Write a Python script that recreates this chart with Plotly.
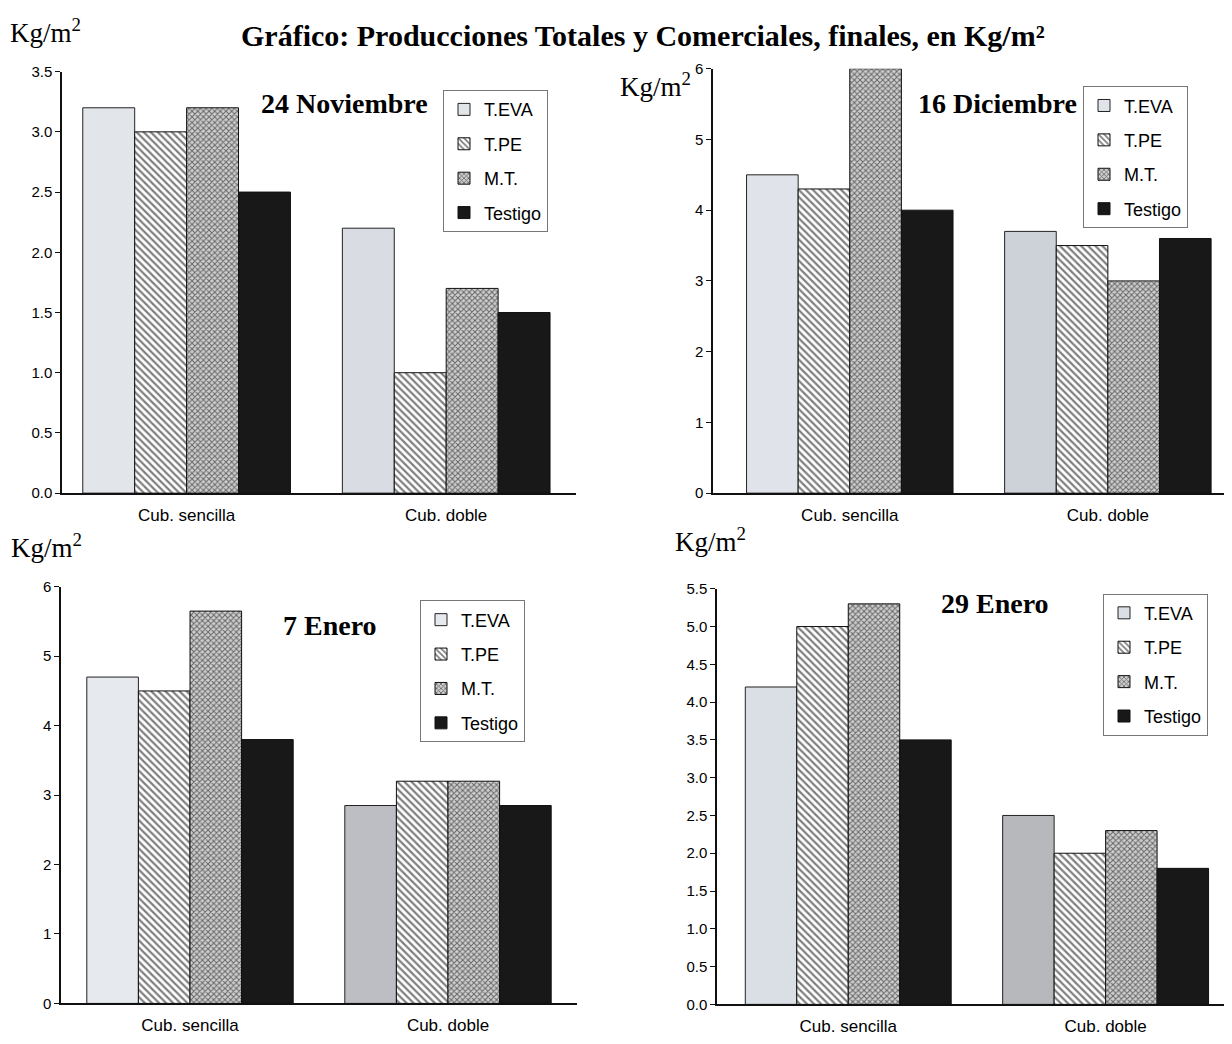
import plotly.graph_objects as go

# The page body has an 8px margin, so the figure is sized to fit the window.
PAGE_OFF = 8
FW, FH = 1216, 1028

categories = ["Cub. sencilla", "Cub. doble"]
series_names = ["T.EVA", "T.PE", "M.T.", "Testigo"]
panel_titles = ["24 Noviembre", "16 Diciembre", "7 Enero", "29 Enero"]
main_title = "Gráfico: Producciones Totales y Comerciales, finales, en Kg/m²"
unit_label = "Kg/m<sup>2</sup>"

# Panel 1: 24 Noviembre
p1_teva = [3.2, 2.2]
p1_tpe = [3.0, 1.0]
p1_mt = [3.2, 1.7]
p1_testigo = [2.5, 1.5]
# Panel 2: 16 Diciembre
p2_teva = [4.5, 3.7]
p2_tpe = [4.3, 3.5]
p2_mt = [6.0, 3.0]
p2_testigo = [4.0, 3.6]
# Panel 3: 7 Enero
p3_teva = [4.7, 2.85]
p3_tpe = [4.5, 3.2]
p3_mt = [5.65, 3.2]
p3_testigo = [3.8, 2.85]
# Panel 4: 29 Enero
p4_teva = [4.2, 2.5]
p4_tpe = [5.0, 2.0]
p4_mt = [5.3, 2.3]
p4_testigo = [3.5, 1.8]

panels_data = [
    [p1_teva, p1_tpe, p1_mt, p1_testigo],
    [p2_teva, p2_tpe, p2_mt, p2_testigo],
    [p3_teva, p3_tpe, p3_mt, p3_testigo],
    [p4_teva, p4_tpe, p4_mt, p4_testigo],
]
y_max = [3.5, 6, 6, 5.5]
y_dtick = [0.5, 1, 1, 0.5]
y_fmt = [".1f", "d", "d", ".1f"]


def fx(p):
    return min(max((p - PAGE_OFF) / FW, 0), 1)


def fy(p):
    return min(max(1 - (p - PAGE_OFF) / FH, 0), 1)


# layout geometry in page pixels
x_px = [(62, 576), (713, 1224), (61, 577), (717, 1224)]
x_rng = [[-0.48, 1.5], [-0.53, 1.45], [-0.5, 1.5], [-0.51, 1.46]]
y_px = [(64, 496), (61, 496), (592, 1019), (594, 1020)]
teva_colors = [["#e2e5ea", "#d9dde3"], ["#e0e4ea", "#cdd1d8"],
               ["#e6e9ee", "#bcbec3"], ["#dadfe5", "#b7b8bb"]]
legend_pos = [(443, 83), (1083, 79), (420, 606), (1103, 599)]
sub_pos = [(344, 97), (997, 97), (330, 632), (995, 609)]
unit_pos = [(45, 22), (655, 78), (46, 550), (710, 544)]

SANS = "Liberation Sans, Arial, sans-serif"
SERIF = "Liberation Serif, Times New Roman, serif"

fig = go.Figure()

for i in range(4):
    xa = "x" if i == 0 else f"x{i+1}"
    ya = "y" if i == 0 else f"y{i+1}"
    lg = "legend" if i == 0 else f"legend{i+1}"
    vals = panels_data[i]
    styles = [
        dict(color=teva_colors[i], line=dict(color="#222", width=1)),
        dict(color="white", line=dict(color="#111", width=1),
             pattern=dict(shape="\\", fgcolor="black", bgcolor="white", size=5, solidity=0.45)),
        dict(color="white", line=dict(color="#111", width=1),
             pattern=dict(shape="x", fgcolor="black", bgcolor="#cfcfcf", size=4, solidity=0.45)),
        dict(color="#181818", line=dict(color="#111", width=1)),
    ]
    for s, name in enumerate(series_names):
        fig.add_trace(go.Bar(
            x=categories, y=vals[s], name=name, marker=styles[s],
            xaxis=xa, yaxis=ya, legend=lg, legendgroup=f"p{i}_{name}",
            showlegend=True,
        ))

layout = dict(
    width=FW, height=FH, autosize=False,
    margin=dict(l=0, r=0, t=0, b=0),
    paper_bgcolor="white", plot_bgcolor="white",
    barmode="group", bargap=0.2, bargroupgap=0,
    font=dict(family=SANS, color="black", size=15),
)

for i in range(4):
    xk = "xaxis" if i == 0 else f"xaxis{i+1}"
    yk = "yaxis" if i == 0 else f"yaxis{i+1}"
    xa = "x" if i == 0 else f"x{i+1}"
    ya = "y" if i == 0 else f"y{i+1}"
    x0, x1 = x_px[i]
    yt, yb = y_px[i]
    layout[xk] = dict(
        domain=[fx(x0), fx(x1)], anchor=ya, range=x_rng[i],
        type="category", showline=True, linecolor="#111", linewidth=2,
        ticks="", showgrid=False, zeroline=False, ticklabelstandoff=5,
        tickfont=dict(family=SANS, size=17, color="black"),
    )
    layout[yk] = dict(
        domain=[fy(yb), fy(yt)], anchor=xa, range=[0, y_max[i]],
        dtick=y_dtick[i], tick0=0, tickformat=y_fmt[i],
        showline=True, linecolor="#111", linewidth=1.5,
        ticks="outside", ticklen=5, tickcolor="#111",
        showgrid=False, zeroline=False,
        tickfont=dict(family=SANS, size=15, color="black"),
    )
    lk = "legend" if i == 0 else f"legend{i+1}"
    lx, ly = legend_pos[i]
    layout[lk] = dict(
        x=fx(lx), y=fy(ly), xanchor="left", yanchor="top",
        xref="paper", yref="paper",
        bgcolor="white", bordercolor="#777", borderwidth=1,
        font=dict(family=SANS, size=18, color="black"),
        traceorder="grouped", tracegroupgap=8,
    )

annotations = [
    dict(text="<b>" + main_title + "</b>", x=fx(643), y=1,
         xref="paper", yref="paper", xanchor="center", yanchor="top",
         showarrow=False, font=dict(family=SERIF, size=30, color="black")),
]
for i in range(4):
    sx, sy = sub_pos[i]
    annotations.append(dict(
        text="<b>" + panel_titles[i] + "</b>", x=fx(sx), y=fy(sy),
        xref="paper", yref="paper", xanchor="center", yanchor="middle",
        showarrow=False, font=dict(family=SERIF, size=28, color="black")))
    ux, uy = unit_pos[i]
    annotations.append(dict(
        text=unit_label, x=fx(ux), y=fy(uy),
        xref="paper", yref="paper", xanchor="center", yanchor="middle",
        showarrow=False, font=dict(family=SERIF, size=27, color="black")))
layout["annotations"] = annotations

fig.update_layout(**layout)
fig.write_html("out.html")
